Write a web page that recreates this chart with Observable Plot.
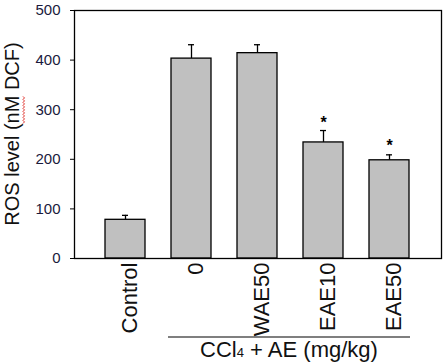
<!DOCTYPE html>
<html>
<head>
<meta charset="utf-8">
<script src="https://cdn.jsdelivr.net/npm/d3@7"></script>
<script src="https://cdn.jsdelivr.net/npm/@observablehq/plot@0.6"></script>
<style>
  body { margin: 0; background: #fff; }
  svg { display: block; }
</style>
</head>
<body>
<div id="chart"></div>
<script>
const groups = ["Control", "0", "WAE50", "EAE10", "EAE50"];
const means = [78, 403, 414, 234, 198];
const errors = [9, 28, 17, 24, 11];
const starGroups = ["EAE10", "EAE50"];
const starValues = [284, 238];
const yTicks = [0, 100, 200, 300, 400, 500];
const yTitle = ["ROS level (", "nM", " DCF)"];
const groupLabel = "CCl";
const groupSub = "4";
const groupRest = " + AE (mg/kg)";
const bracketFrom = "0";
const bracketTo = "EAE50";

const data = groups.map((g, i) => ({group: g, mean: means[i], hi: means[i] + errors[i]}));
const stars = starGroups.map((g, i) => ({group: g, y: starValues[i]}));

const font = "'Liberation Sans', Arial, sans-serif";

const plot = Plot.plot({
  width: 444,
  height: 363,
  marginLeft: 74,
  marginRight: 3,
  marginTop: 10,
  marginBottom: 105,
  style: {fontFamily: font, background: "#fff", color: "#000", overflow: "visible"},
  x: {domain: groups, paddingInner: 0.39, paddingOuter: 0.435, label: null},
  y: {domain: [0, 500], label: null},
  marks: [
    Plot.ruleX(data, {x: "group", y1: "mean", y2: "hi", stroke: "#000", strokeWidth: 1.3}),
    Plot.tickY(data, {x: "group", y: "hi", stroke: "#000", strokeWidth: 1.3, insetLeft: 17, insetRight: 17}),
    Plot.barY(data, {x: "group", y: "mean", fill: "#c0c0c0", stroke: "#000", strokeWidth: 1.3}),
    Plot.text(stars, {x: "group", y: "y", text: () => "*", fontSize: 16, fontWeight: "bold", dy: 5, fill: "#000"}),
    Plot.axisY({ticks: yTicks, tickSize: 4, tickPadding: 10, fontSize: 15, label: null, color: "#1a1a3c", stroke: "#000"}),
    Plot.axisX({tickRotate: -90, tickSize: 0, tickPadding: 4, fontSize: 22, label: null, fill: "#111"}),
    Plot.frame({stroke: "#000", strokeWidth: 1.3})
  ]
});

document.getElementById("chart").append(plot);

const svg = d3.select(plot);
const xs = plot.scale("x");
const ys = plot.scale("y");
const y0 = ys.apply(0);

// shift rotated x tick labels slightly right, as in the reference
svg.selectAll("g[aria-label='x-axis tick label'] text").each(function() {
  const tr = this.getAttribute("transform") || "";
  this.setAttribute("transform", `translate(4,0) ${tr}`);
});

// y title
const tg = svg.append("g")
  .attr("transform", `translate(19,${(ys.apply(0) + ys.apply(500)) / 2}) rotate(-90)`);
const t = tg.append("text")
  .attr("text-anchor", "middle")
  .attr("font-family", font)
  .attr("font-size", 20)
  .attr("fill", "#111");
t.append("tspan").text(yTitle[0]);
t.append("tspan").text(yTitle[1]);
t.append("tspan").text(yTitle[2]);

// red wavy spell-check underline under "nM"
const node = t.node();
const i0 = yTitle[0].length;
const i1 = i0 + yTitle[1].length - 1;
const e0 = node.getExtentOfChar(i0);
const e1 = node.getExtentOfChar(i1);
const ux0 = e0.x, ux1 = e1.x + e1.width;
const uy = 4;
let d = `M${ux0},${uy}`;
let k = 0;
for (let x = ux0 + 1.5; x <= ux1 + 0.01; x += 1.5, k++) {
  d += `L${x},${uy + (k % 2 === 0 ? 1.5 : -0)}`;
}
tg.append("path").attr("d", d).attr("fill", "none").attr("stroke", "#e0302a").attr("stroke-width", 1);

// group bracket
const xa = xs.apply(bracketFrom) - 3;
const xb = xs.apply(bracketTo) + xs.bandwidth + 1;
svg.append("line")
  .attr("x1", xa).attr("x2", xb)
  .attr("y1", y0 + 79).attr("y2", y0 + 79)
  .attr("stroke", "#000").attr("stroke-width", 1.2);
const g = svg.append("text")
  .attr("x", (xa + xb) / 2)
  .attr("y", y0 + 99)
  .attr("text-anchor", "middle")
  .attr("font-family", font)
  .attr("font-size", 22)
  .attr("fill", "#111");
g.append("tspan").text(groupLabel);
g.append("tspan").text(groupSub).attr("font-size", 13);
g.append("tspan").text(groupRest);
</script>
</body>
</html>
